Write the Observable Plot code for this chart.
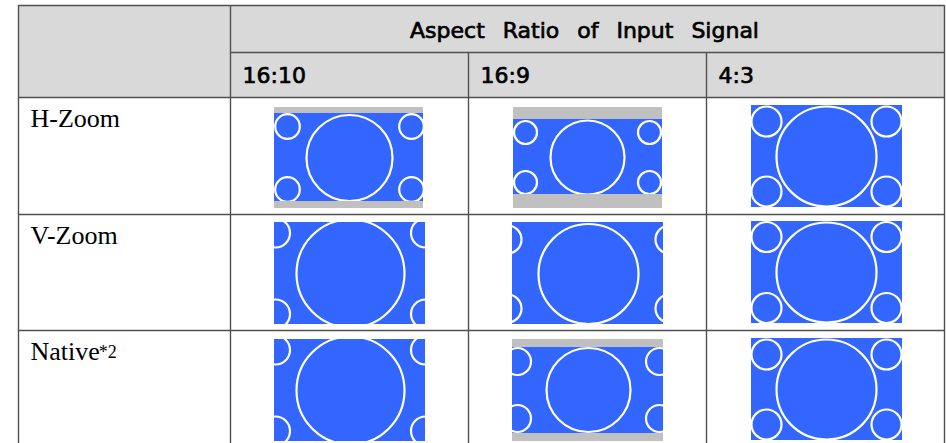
<!DOCTYPE html>
<html><head><meta charset="utf-8">
<script src="https://cdn.jsdelivr.net/npm/d3@7"></script>
<script src="https://cdn.jsdelivr.net/npm/@observablehq/plot@0.6"></script>
<style>html,body{margin:0;padding:0;background:#fff}</style>
</head><body><div id="chart"></div>
<script>
// ---- content ----
const groupTitle = "Aspect Ratio of Input Signal";
const ratios = ["16:10", "16:9", "4:3"];
const modes = ["H-Zoom", "V-Zoom", "Native"];
const modeNotes = ["", "", "*2"];

// ---- table grid (px) ----
const tableLeft = 18, tableTop = 5;
const colWidths = [212, 238, 238, 238];
const rowHeights = [47, 45, 117, 116, 116];

// ---- thumbnails, measured relative to their cell's top-left ----
// frame [x,y,w,h] (grey screen), band [y,h] (visible picture),
// center [cx,cy], R big circle, r corner circles, dx/dy corner offsets
const thumbs = [
  {mode: "H-Zoom", ratio: "16:10", frame: [44, 10, 149, 101], band: [16, 88],  center: [119, 60.5], R: 43, r: 12.3, dx: 62, dy: 31.5},
  {mode: "H-Zoom", ratio: "16:9",  frame: [45, 10, 149, 101], band: [22, 75],  center: [119, 60],   R: 37, r: 11.5, dx: 62, dy: 25},
  {mode: "H-Zoom", ratio: "4:3",   frame: [45, 8, 151, 102],  band: [8, 102],  center: [120, 59],   R: 50, r: 15,   dx: 60, dy: 35},
  {mode: "V-Zoom", ratio: "16:10", frame: [44, 8, 151, 102],  band: [8, 102],  center: [120, 59],   R: 54, r: 14.5, dx: 75, dy: 40.5},
  {mode: "V-Zoom", ratio: "16:9",  frame: [44, 8, 151, 102],  band: [8, 102],  center: [120, 59.5], R: 50, r: 14,   dx: 81, dy: 34.5},
  {mode: "V-Zoom", ratio: "4:3",   frame: [45, 7, 151, 102],  band: [7, 102],  center: [120, 58],   R: 50, r: 15,   dx: 60, dy: 35.5},
  {mode: "Native", ratio: "16:10", frame: [44, 9, 151, 102],  band: [9, 102],  center: [120, 60],   R: 54, r: 14.5, dx: 75, dy: 40.5},
  {mode: "Native", ratio: "16:9",  frame: [44, 9, 151, 102],  band: [17, 86],  center: [120, 59.5], R: 42, r: 13.5, dx: 71, dy: 28.5},
  {mode: "Native", ratio: "4:3",   frame: [45, 8, 151, 102],  band: [8, 102],  center: [120, 59],   R: 50, r: 15,   dx: 60, dy: 35}
];

// ---- derived layout ----
const W = 946, H = 443;
const colEdges = [tableLeft];
colWidths.forEach(w => colEdges.push(colEdges[colEdges.length - 1] + w));
const rowEdges = [tableTop];
rowHeights.forEach(h => rowEdges.push(rowEdges[rowEdges.length - 1] + h));
const right = colEdges[colEdges.length - 1];
const bottom = rowEdges[rowEdges.length - 1];

const headerBox = [{x1: colEdges[0], x2: right, y1: rowEdges[0], y2: rowEdges[2]}];

const hLines = rowEdges.map((y, k) => ({y, x1: k === 1 ? colEdges[1] : colEdges[0], x2: right}));
const vLines = colEdges.map((x, c) => ({x, y1: (c === 2 || c === 3) ? rowEdges[1] : rowEdges[0], y2: bottom}));

const frames = [], bands = [], bars = [], masks = [], circles = [];
for (const t of thumbs) {
  const ci = ratios.indexOf(t.ratio) + 1, ri = modes.indexOf(t.mode) + 2;
  const cx0 = colEdges[ci], cy0 = rowEdges[ri], cx1 = colEdges[ci + 1], cy1 = rowEdges[ri + 1];
  const [fx, fy, fw, fh] = t.frame;
  const X1 = cx0 + fx, X2 = X1 + fw, Y1 = cy0 + fy, Y2 = Y1 + fh;
  const B1 = cy0 + t.band[0], B2 = B1 + t.band[1];
  frames.push({x1: X1, x2: X2, y1: Y1, y2: Y2});
  bands.push({x1: X1, x2: X2, y1: B1, y2: B2});
  if (B1 > Y1) bars.push({x1: X1, x2: X2, y1: Y1, y2: B1});
  if (B2 < Y2) bars.push({x1: X1, x2: X2, y1: B2, y2: Y2});
  masks.push({x1: cx0, x2: X1, y1: cy0, y2: cy1}, {x1: X2, x2: cx1, y1: cy0, y2: cy1},
             {x1: cx0, x2: cx1, y1: cy0, y2: Y1}, {x1: cx0, x2: cx1, y1: Y2, y2: cy1});
  const mx = cx0 + t.center[0], my = cy0 + t.center[1];
  circles.push({x: mx, y: my, r: t.R});
  for (const sx of [-1, 1]) for (const sy of [-1, 1])
    circles.push({x: mx + sx * t.dx, y: my + sy * t.dy, r: t.r});
}

// text
const titleText = groupTitle.split(" ").join("\u00a0\u2002");
const headerTexts = ratios.map((r, j) => ({text: r, x: colEdges[j + 1] + 12, y: rowEdges[2] - 15}));
const labelFont = "26px 'Liberation Serif'";
const ctx = document.createElement("canvas").getContext("2d");
ctx.font = labelFont;
const labelTexts = modes.map((m, i) => ({text: m, x: colEdges[0] + 12, y: rowEdges[i + 2] + 29.5}));
const noteTexts = modes.map((m, i) => ({text: modeNotes[i], x: colEdges[0] + 12 + ctx.measureText(m).width - 1, y: rowEdges[i + 2] + 27})).filter(d => d.text);

const rectOpts = {x1: "x1", x2: "x2", y1: "y1", y2: "y2"};
const lineColor = "#505050";
const headFont = {fontFamily: "DejaVu Sans", fontSize: 22, fill: "black", stroke: "black", strokeWidth: 0.7, lineAnchor: "bottom"};

const chart = Plot.plot({
  width: W, height: H, margin: 0,
  x: {domain: [0, W], range: [0, W], axis: null},
  y: {domain: [0, H], range: [0, H], axis: null},
  r: {type: "identity"},
  marks: [
    Plot.rect(headerBox, {...rectOpts, fill: "#d9d9d9"}),
    Plot.rect(frames, {...rectOpts, fill: "#c0c0c0"}),
    Plot.rect(bands, {...rectOpts, fill: "#3366ff"}),
    Plot.dot(circles, {x: "x", y: "y", r: "r", stroke: "white", strokeWidth: 2.2, fill: "none"}),
    Plot.rect(bars, {...rectOpts, fill: "#c0c0c0"}),
    Plot.rect(masks, {...rectOpts, fill: "white"}),
    Plot.ruleY(hLines, {y: "y", x1: "x1", x2: "x2", stroke: lineColor, strokeWidth: 1.4}),
    Plot.ruleX(vLines, {x: "x", y1: "y1", y2: "y2", stroke: lineColor, strokeWidth: 1.4}),
    Plot.text([titleText], {x: 584, y: rowEdges[1] - 15, text: d => d, ...headFont}),
    Plot.text(headerTexts, {x: "x", y: "y", text: "text", textAnchor: "start", ...headFont}),
    Plot.text(labelTexts, {x: "x", y: "y", text: "text", textAnchor: "start", lineAnchor: "bottom", fontFamily: "Liberation Serif", fontSize: 26, fill: "black"}),
    Plot.text(noteTexts, {x: "x", y: "y", text: "text", textAnchor: "start", lineAnchor: "bottom", fontFamily: "Liberation Serif", fontSize: 18, fill: "black"})
  ]
});
document.getElementById("chart").appendChild(chart);
</script>
</body></html>
